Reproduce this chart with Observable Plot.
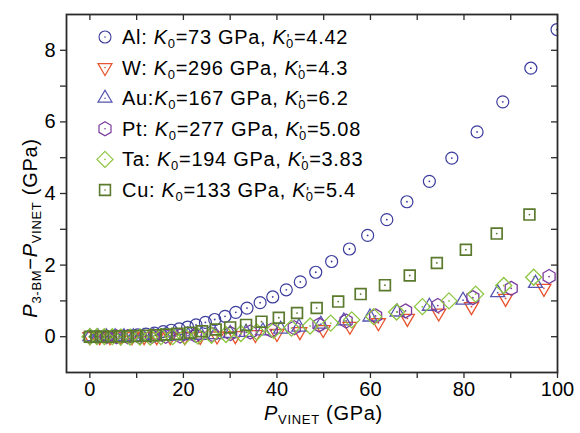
<!DOCTYPE html>
<html><head><meta charset="utf-8">
<script src="https://cdn.jsdelivr.net/npm/d3@7"></script>
<script src="https://cdn.jsdelivr.net/npm/@observablehq/plot@0.6"></script>
<style>body{margin:0;background:#fff} #chart{width:580px;height:433px}</style>
</head><body><div id="chart"></div>
<script>
// ---- data ----
const alX=[0,1.7,3.4,5.1,6.8,8.5,10.2,12.0,13.8,15.7,17.4,19.1,20.9,22.7,24.7,26.7,28.9,31.2,33.6,36.4,39.1,42.0,45.0,48.3,51.7,55.5,59.4,63.5,67.8,72.6,77.4,82.8,88.3,94.3,99.9];
const alY=[0,0,0.01,0.01,0.02,0.03,0.05,0.07,0.10,0.14,0.18,0.22,0.27,0.33,0.40,0.48,0.57,0.68,0.80,0.95,1.11,1.31,1.53,1.80,2.10,2.45,2.83,3.27,3.77,4.34,4.99,5.72,6.56,7.50,8.58];
const wX=[0,2.1,4.3,6.6,9.0,11.6,14.3,17.2,20.3,23.6,27.2,31.1,35.4,40.0,44.9,49.9,55.6,61.7,67.9,74.6,81.6,88.9,97.1];
const wY=[0,0,0,0,0,0,0,0,0,0.01,0.02,0.03,0.06,0.09,0.14,0.20,0.29,0.39,0.51,0.66,0.84,1.07,1.35];
const auX=[0,1.7,3.5,5.4,7.3,9.3,11.4,13.6,15.9,18.4,21.0,23.8,26.8,30.0,33.4,37.0,40.8,44.7,49.4,54.3,59.9,65.7,72.6,79.8,87.2,95.3];
const auY=[0,0,0,0,0,0,0,0.01,0.01,0.02,0.03,0.04,0.06,0.09,0.12,0.16,0.21,0.27,0.35,0.44,0.55,0.69,0.85,1.02,1.23,1.49];
const ptX=[0,1.6,3.5,5.7,8.1,10.6,13.3,16.2,19.3,22.6,26.2,30.1,34.3,38.8,43.7,49.0,54.8,61.1,67.5,74.4,81.9,90.1,98.2];
const ptY=[0,0,0,0,0,0,0.01,0.01,0.02,0.04,0.06,0.09,0.13,0.18,0.25,0.33,0.44,0.58,0.72,0.87,1.09,1.35,1.68];
const taX=[0,1.5,3.1,4.8,6.6,8.6,10.7,12.9,15.2,17.7,20.3,23.1,26.0,29.1,32.3,35.7,39.3,43.1,47.1,51.5,56.0,60.7,65.6,71.1,76.8,82.5,88.5,94.9];
const taY=[0,0,0,0,-0.01,-0.01,-0.01,-0.01,0,0,0.01,0.02,0.04,0.06,0.09,0.13,0.18,0.24,0.30,0.38,0.47,0.56,0.69,0.84,1.00,1.19,1.43,1.66];
const cuX=[0,1.4,2.8,4.5,6.3,8.1,10.0,12.0,14.1,16.3,18.7,21.4,24.0,26.9,30.0,33.4,36.7,40.4,44.3,48.5,53.1,57.9,63.1,68.4,74.2,80.4,87.0,94.0];
const cuY=[0,0,0,0,0.01,0.01,0.02,0.03,0.04,0.06,0.08,0.11,0.15,0.20,0.26,0.33,0.42,0.53,0.66,0.80,0.98,1.19,1.44,1.71,2.06,2.43,2.88,3.41];

const names=["Al","W","Au","Pt","Ta","Cu"];
const seps=[": ",": ",":",": ",": ",": "];
const k0s=["73","296","167","277","194","133"];
const kps=["4.42","4.3","6.2","5.08","3.83","5.4"];
const colors=["#3c3c9c","#e8542e","#5656b2","#7a3a9e","#8cc63f","#5b7a2e"];
const widths=[1.2,1.3,1.3,1.3,1.3,1.7];
const xTicks=[0,10,20,30,40,50,60,70,80,90,100];
const yTicks=[0,1,2,3,4,5,6,7,8];

// ---- symbols ----
const symCircle={draw(c){c.moveTo(6,0);c.arc(0,0,6,0,2*Math.PI);}};
const symTriDown={draw(c){const w=7,h=12;c.moveTo(-w,-h/3);c.lineTo(w,-h/3);c.lineTo(0,2*h/3);c.closePath();}};
const symTriUp={draw(c){const w=7,h=12;c.moveTo(-w,h/3);c.lineTo(w,h/3);c.lineTo(0,-2*h/3);c.closePath();}};
const symHex={draw(c){const rx=6,ry=7;c.moveTo(0,-ry);c.lineTo(rx,-ry/2);c.lineTo(rx,ry/2);c.lineTo(0,ry);c.lineTo(-rx,ry/2);c.lineTo(-rx,-ry/2);c.closePath();}};
const symDiamond={draw(c){const d=8;c.moveTo(0,-d);c.lineTo(d,0);c.lineTo(0,d);c.lineTo(-d,0);c.closePath();}};
const symSquare={draw(c){const s=5.4;c.rect(-s,-s,2*s,2*s);}};
const syms=[symCircle,symTriDown,symTriUp,symHex,symDiamond,symSquare];

const xs=[alX,wX,auX,ptX,taX,cuX], ys=[alY,wY,auY,ptY,taY,cuY];
const series=names.map((n,i)=>xs[i].map((x,j)=>({x, y: ys[i][j]})));

const W=580,H=433,mL=66,mR=23,mT=14,mB=61;
const pw=W-mL-mR, ph=H-mT-mB;
const ink="#2b2b2b";
const FF="'Liberation Sans', Arial, sans-serif";
const FS=20, LS=0.7;

const marks=[];
series.forEach((data,i)=>{
  marks.push(Plot.dot(data,{x:"x",y:"y",symbol:syms[i],r:6,stroke:colors[i],strokeWidth:widths[i],fill:"none",clip:true}));
  marks.push(Plot.dot(data,{x:"x",y:"y",r:0.9,fill:colors[i],stroke:"none",clip:true}));
});
marks.push(Plot.tickX(xTicks,{x:d=>d,insetBottom:ph-6,stroke:ink,strokeWidth:1.3}));
marks.push(Plot.tickY(yTicks,{y:d=>d,insetLeft:pw-6,stroke:ink,strokeWidth:1.3}));
marks.push(Plot.axisX({ticks:xTicks,tickSize:6,tickPadding:3,tickFormat:d=>d%20===0?String(d):"",label:null,stroke:ink,strokeWidth:1.3}));
marks.push(Plot.axisY({ticks:yTicks,tickSize:6,tickPadding:5,tickFormat:d=>d%2===0?String(d):"",label:null,stroke:ink,strokeWidth:1.3}));
marks.push(Plot.frame({stroke:ink,strokeWidth:1.8}));

const svg=Plot.plot({
  width:W,height:H,marginLeft:mL,marginRight:mR,marginTop:mT,marginBottom:mB,
  x:{domain:[-5,100]}, y:{domain:[-1,9]},
  style:{fontFamily:FF,fontSize:FS+"px",color:"#000",background:"#fff"},
  marks
});
document.getElementById("chart").appendChild(svg);

// ---- legend & axis labels ----
const s=d3.select(svg);
const lg=s.append("g").attr("font-family",FF).attr("font-size",FS).attr("fill","#000").attr("text-anchor","start").attr("letter-spacing",LS);
names.forEach((n,i)=>{
  const cy=37+30.6*i;
  lg.append("path").attr("d",d3.symbol().type(syms[i])()).attr("transform",`translate(105,${cy})`)
    .attr("fill","none").attr("stroke",colors[i]).attr("stroke-width",widths[i]-0.1);
  lg.append("circle").attr("cx",105).attr("cy",cy).attr("r",0.8).attr("fill",colors[i]);
  const t=lg.append("text").attr("x",122).attr("y",cy+7).attr("text-anchor","start");
  t.append("tspan").text(n+seps[i]);
  t.append("tspan").attr("font-style","italic").text("K");
  t.append("tspan").attr("font-size",13).attr("dy",4).text("0");
  t.append("tspan").attr("dy",-4).text("="+k0s[i]+" GPa, ");
  t.append("tspan").attr("font-style","italic").text("K");
  t.append("tspan").attr("font-size",14).attr("dx",0).text("'");
  t.append("tspan").attr("font-size",13).attr("dx",-4).attr("dy",4).text("0");
  t.append("tspan").attr("dy",-4).text("="+kps[i]);
});

const xl=s.append("text").attr("x",mL+pw/2+12).attr("y",420).attr("text-anchor","middle")
  .attr("font-family",FF).attr("font-size",FS).attr("fill","#000").attr("letter-spacing",LS);
xl.append("tspan").attr("font-style","italic").text("P");
xl.append("tspan").attr("font-size",13).attr("dy",4).text("VINET");
xl.append("tspan").attr("dy",-4).text(" (GPa)");

const yl=s.append("text").attr("transform","translate(37,228) rotate(-90)").attr("text-anchor","middle")
  .attr("font-family",FF).attr("font-size",FS).attr("fill","#000").attr("letter-spacing",LS);
yl.append("tspan").attr("font-style","italic").text("P");
yl.append("tspan").attr("font-size",13).attr("dy",4).text("3-BM");
yl.append("tspan").attr("dy",-4).text("\u2212");
yl.append("tspan").attr("font-style","italic").text("P");
yl.append("tspan").attr("font-size",13).attr("dy",4).text("VINET");
yl.append("tspan").attr("dy",-4).text(" (GPa)");
</script>
</body></html>
